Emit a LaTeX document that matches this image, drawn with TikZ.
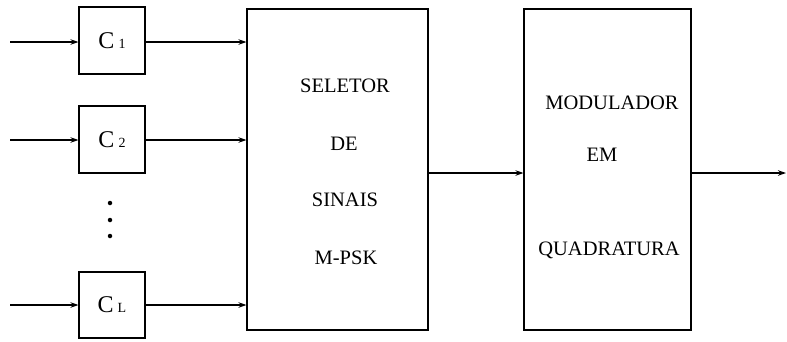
\documentclass[tikz,border=0pt]{standalone}
\usepackage{fontspec}
\setmainfont{Liberation Serif}
\usetikzlibrary{arrows.meta}
\begin{document}
\begin{tikzpicture}[x=1pt,y=-1pt,
  blk/.style={draw,line width=1.1pt,inner sep=0pt},
  lbl/.style={font=\fontsize{20.5}{20.5}\selectfont,inner sep=0pt},
  conn/.style={line width=1.3pt,-{Stealth[length=8pt,width=5.5pt]}},
  dot/.style={circle,fill,inner sep=0pt,minimum size=4.5pt}]
\useasboundingbox (0,0) rectangle (787,341);
\newcommand{\cname}[1]{\fontsize{24}{24}\selectfont C\,{\fontsize{14}{14}\selectfont #1}}
\node[blk,minimum width=66pt,minimum height=67pt] (c1) at (112,40.5) {\cname{1}};
\node[blk,minimum width=66pt,minimum height=67pt] (c2) at (112,139.5) {\cname{2}};
\node[blk,minimum width=66pt,minimum height=66pt] (cl) at (112,305) {\cname{L}};
\node[dot] (d1) at (110,203) {};
\node[dot] (d2) at (110,220) {};
\node[dot] (d3) at (110,236) {};
\node[blk,minimum width=181pt,minimum height=321pt] (sel) at (337.5,169.5) {};
\node[blk,minimum width=167pt,minimum height=321pt] (mod) at (607.5,169.5) {};
\node[lbl] (t1) at (345,86) {SELETOR};
\node[lbl] (t2) at (344,144) {DE};
\node[lbl] (t3) at (345,200) {SINAIS};
\node[lbl] (t4) at (346,258) {M-PSK};
\node[lbl] (u1) at (612,103) {MODULADOR};
\node[lbl] (u2) at (602,155) {EM};
\node[lbl] (u3) at (609,250) {QUADRATURA};
\coordinate (i1) at (10,42);
\coordinate (i2) at (10,140);
\coordinate (i3) at (10,305);
\coordinate (o) at (786,173);
\draw[conn] (i1) -- (i1 -| c1.west);
\draw[conn] (i2) -- (i2 -| c2.west);
\draw[conn] (i3) -- (i3 -| cl.west);
\draw[conn] (i1 -| c1.east) -- (i1 -| sel.west);
\draw[conn] (i2 -| c2.east) -- (i2 -| sel.west);
\draw[conn] (i3 -| cl.east) -- (i3 -| sel.west);
\draw[conn] (o -| sel.east) -- (o -| mod.west);
\draw[conn] (o -| mod.east) -- (o);
\end{tikzpicture}
\end{document}
